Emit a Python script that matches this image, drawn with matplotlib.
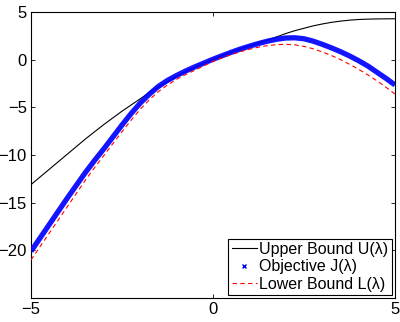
import matplotlib
matplotlib.use("Agg")
import matplotlib.pyplot as plt
from matplotlib.lines import Line2D

plt.rcParams['font.family'] = ['Liberation Sans', 'DejaVu Sans']

# lambda grid and the three curves
lam = [-5.0, -4.75, -4.5, -4.25, -4.0, -3.75, -3.5, -3.25, -3.0, -2.75, -2.5,
       -2.25, -2.0, -1.75, -1.5, -1.25, -1.0, -0.75, -0.5, -0.25, 0.0,
       0.25, 0.5, 0.75, 1.0, 1.25, 1.5, 1.75, 2.0, 2.25, 2.5,
       2.75, 3.0, 3.25, 3.5, 3.75, 4.0, 4.25, 4.5, 4.75, 5.0]
upper = [-13.1, -12.3, -11.5, -10.7, -9.9, -9.1, -8.3, -7.55, -6.8, -6.1, -5.4,
         -4.75, -4.1, -3.45, -2.85, -2.3, -1.75, -1.25, -0.8, -0.37, 0.05,
         0.43, 0.8, 1.13, 1.45, 1.75, 2.05, 2.4, 2.75, 3.05, 3.3,
         3.55, 3.75, 3.92, 4.05, 4.15, 4.22, 4.26, 4.28, 4.29, 4.3]
objective = [-20.1, -18.7, -17.3, -15.9, -14.5, -13.15, -11.8, -10.55, -9.35, -8.1, -6.85,
             -5.65, -4.55, -3.62, -2.8, -2.17, -1.65, -1.18, -0.75, -0.35, 0.05,
             0.42, 0.78, 1.12, 1.42, 1.7, 1.95, 2.15, 2.28, 2.3, 2.2,
             1.95, 1.62, 1.25, 0.85, 0.4, -0.1, -0.65, -1.3, -1.95, -2.65]
lower = [-21.0, -19.6, -18.2, -16.8, -15.4, -14.0, -12.6, -11.3, -10.05, -8.8, -7.55,
         -6.35, -5.2, -4.2, -3.35, -2.65, -2.05, -1.55, -1.1, -0.64, -0.18,
         0.2, 0.53, 0.84, 1.1, 1.32, 1.48, 1.58, 1.62, 1.56, 1.4,
         1.15, 0.82, 0.45, 0.02, -0.48, -1.0, -1.58, -2.2, -2.88, -3.6]

fig = plt.figure(figsize=(4.0, 3.22), dpi=100)
ax = fig.add_axes([0.0775, 0.0745, 0.91, 0.888])

ax.plot(lam, upper, color='black', lw=0.8)
# the objective is a dense run of x markers, drawn here as a thick band
ax.plot(lam, objective, color='#0000ff', lw=3.8, alpha=0.92, zorder=3,
        solid_capstyle='butt')
ax.plot(lam, lower, color='red', lw=0.8, ls=(0, (4, 3)), zorder=4)

ax.set_xlim(-5, 5)
ax.set_ylim(-25, 5)
ax.set_xticks([-5, 0, 5])
ax.set_yticks([-20, -15, -10, -5, 0, 5])
ax.tick_params(direction='in', top=True, right=True, labelsize=12, length=3,
               width=0.6, pad=3)
for s in ax.spines.values():
    s.set_linewidth(0.8)

handles = [Line2D([], [], color='black', lw=0.8),
           Line2D([], [], ls='none', marker='x', ms=3, mew=1, color='#0000ff'),
           Line2D([], [], color='red', lw=0.8, ls=(0, (4, 3)))]
labels = ['Upper Bound U(λ)', 'Objective J(λ)', 'Lower Bound L(λ)']
leg = ax.legend(handles, labels, loc='lower right', fontsize=11.5, frameon=True,
                fancybox=False, edgecolor='black', framealpha=1, borderpad=0.2,
                labelspacing=0.15, handlelength=1.6, handletextpad=0.15,
                borderaxespad=0.2, numpoints=1)
leg.get_frame().set_linewidth(0.8)

fig.savefig('out.png', dpi=100)
